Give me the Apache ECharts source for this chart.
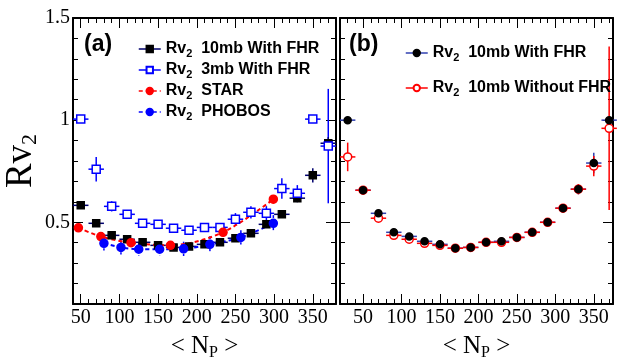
<!DOCTYPE html>
<html>
<head>
<meta charset="utf-8"/>
<title>Rv2 vs Npart</title>
<script src="https://cdn.jsdelivr.net/npm/echarts@6/dist/echarts.min.js"></script>
<style>
  html, body { margin: 0; padding: 0; background: #fff; }
  #main { width: 618px; height: 358px; }
</style>
</head>
<body>
<div id="main"></div>
<script type="text/javascript">
// ---- data ----
// panel (a)
var npLeft = [50, 70, 90, 110, 130, 150, 170, 190, 210, 230, 250, 270, 290, 310, 330, 350, 370];
var rv10Left = [0.583, 0.495, 0.436, 0.417, 0.402, 0.387, 0.377, 0.382, 0.392, 0.402, 0.422, 0.446, 0.49, 0.539, 0.618, 0.73, 0.887];
var rv10LeftErr = [0.01, 0.01, 0.01, 0.01, 0.01, 0.01, 0.01, 0.01, 0.01, 0.01, 0.01, 0.01, 0.015, 0.015, 0.02, 0.035, 0.03];
var rv3Left = [1.005, 0.76, 0.578, 0.539, 0.495, 0.49, 0.471, 0.461, 0.475, 0.475, 0.515, 0.549, 0.544, 0.665, 0.642, 1.005, 0.873];
var rv3LeftErr = [0.01, 0.06, 0.025, 0.02, 0.02, 0.015, 0.02, 0.015, 0.02, 0.02, 0.03, 0.03, 0.035, 0.05, 0.04, 0.01, 0.28];
var npStar = [47, 76, 115, 166, 234, 299];
var rvStar = [0.473, 0.43, 0.4, 0.387, 0.451, 0.613];
var rvStarErr = [0.02, 0.02, 0.02, 0.02, 0.02, 0.02];
var npPhobos = [80, 102, 125, 152, 183, 217, 257, 299];
var rvPhobos = [0.397, 0.377, 0.368, 0.368, 0.37, 0.392, 0.426, 0.495];
var rvPhobosErr = [0.035, 0.035, 0.03, 0.03, 0.035, 0.04, 0.035, 0.04];
// panel (b)
var npRight = [30, 50, 70, 90, 110, 130, 150, 170, 190, 210, 230, 250, 270, 290, 310, 330, 350, 370];
var rv10Right = [1.0, 0.657, 0.544, 0.451, 0.431, 0.407, 0.392, 0.373, 0.377, 0.402, 0.407, 0.426, 0.451, 0.5, 0.569, 0.662, 0.79, 1.0];
var rv10RightErr = [0.005, 0.02, 0.01, 0.01, 0.01, 0.01, 0.01, 0.01, 0.01, 0.01, 0.01, 0.01, 0.01, 0.01, 0.02, 0.025, 0.05, 0.01];
var rvNoRight = [0.82, 0.657, 0.52, 0.436, 0.417, 0.397, 0.387, 0.373, 0.377, 0.402, 0.402, 0.426, 0.451, 0.5, 0.569, 0.662, 0.775, 0.96];
var rvNoRightErr = [0.07, 0.02, 0.01, 0.01, 0.01, 0.01, 0.01, 0.01, 0.01, 0.01, 0.01, 0.01, 0.01, 0.01, 0.02, 0.025, 0.05, 0.4];
var binHalf = 10;
var xMajor = [50, 100, 150, 200, 250, 300, 350];
var yMajor = [0.5, 1, 1.5];

var SANS = 'Liberation Sans', SERIF = 'Liberation Serif';
var myChart = echarts.init(document.getElementById('main'));

// each grid gets minor-tick axes (with the frame line) and major-tick overlays on every side
function xAxes(grid, min, max) {
    var res = [];
    ['bottom', 'top'].forEach(function (pos) {
        var ax = {
            type: 'value', gridIndex: grid, position: pos, min: min, max: max, interval: 10,
            axisLine: {show: true, onZero: false, lineStyle: {color: '#000', width: 2}},
            axisTick: {show: true, inside: true, length: 5, lineStyle: {color: '#000', width: 1}},
            axisLabel: {show: false},
            splitLine: {show: false}
        };
        if (pos === 'bottom') {
            ax.axisLabel = {show: true, customValues: xMajor, margin: 4, color: '#000', fontFamily: SERIF, fontSize: 20};
            ax.name = '{m|< N}{s|P}{m| >}';
            ax.nameLocation = 'middle';
            ax.nameGap = 27;
            ax.nameTextStyle = {
                rich: {
                    m: {fontFamily: SERIF, fontSize: 25, color: '#000', lineHeight: 30},
                    s: {fontFamily: SERIF, fontSize: 16, color: '#000', lineHeight: 16, verticalAlign: 'bottom'}
                }
            };
        }
        res.push(ax);
        res.push({
            type: 'value', gridIndex: grid, position: pos, min: min, max: max, interval: 10,
            axisLine: {show: false, onZero: false},
            axisTick: {show: true, inside: true, length: 10, customValues: xMajor, lineStyle: {color: '#000', width: 1}},
            axisLabel: {show: false},
            splitLine: {show: false}
        });
    });
    return res;
}
function yAxes(grid, withLabels) {
    var res = [];
    ['left', 'right'].forEach(function (pos) {
        var ax = {
            type: 'value', gridIndex: grid, position: pos, min: 0.1, max: 1.5, interval: 0.1,
            axisLine: {show: true, onZero: false, lineStyle: {color: '#000', width: 2}},
            axisTick: {show: true, inside: true, length: 5, lineStyle: {color: '#000', width: 1}},
            axisLabel: {show: false},
            splitLine: {show: false}
        };
        if (withLabels && pos === 'left') {
            ax.axisLabel = {
                show: true, customValues: yMajor, margin: 3, color: '#000', fontFamily: SERIF, fontSize: 20,
                formatter: function (v) { return String(+v.toFixed(1)); }
            };
            ax.name = '{r|Rv}{s|2}';
            ax.nameLocation = 'middle';
            ax.nameGap = 27;
            ax.nameTextStyle = {
                rich: {
                    r: {fontFamily: SERIF, fontSize: 37, color: '#000', lineHeight: 40},
                    s: {fontFamily: SERIF, fontSize: 22, color: '#000', lineHeight: 22, verticalAlign: 'bottom'}
                }
            };
        }
        res.push(ax);
        res.push({
            type: 'value', gridIndex: grid, position: pos, min: 0.1, max: 1.5, interval: 0.1,
            axisLine: {show: false, onZero: false},
            axisTick: {show: true, inside: true, length: 10, customValues: yMajor, lineStyle: {color: '#000', width: 1}},
            axisLabel: {show: false},
            splitLine: {show: false}
        });
    });
    return res;
}

function toErr(xs, ys, errs, xe) {
    return xs.map(function (x, i) { return [x, ys[i], xe, errs[i]]; });
}
function toPts(xs, ys) {
    return xs.map(function (x, i) { return [x, ys[i]]; });
}
// error bars drawn through the axis scales
function errSeries(data, xi, yi, color, dash) {
    return {
        type: 'custom', xAxisIndex: xi, yAxisIndex: yi, z: 1, silent: true,
        data: data,
        renderItem: function (params, api) {
            var x = api.value(0), y = api.value(1), ex = api.value(2), ey = api.value(3);
            var kids = [];
            var st = {stroke: color, lineWidth: 1.5, lineDash: dash || null};
            if (ex > 0) {
                var l = api.coord([x - ex, y]), r = api.coord([x + ex, y]);
                kids.push({type: 'line', shape: {x1: l[0], y1: l[1], x2: r[0], y2: r[1]}, style: st});
            }
            var t = api.coord([x, y + ey]), b = api.coord([x, y - ey]);
            kids.push({type: 'line', shape: {x1: t[0], y1: t[1], x2: b[0], y2: b[1]}, style: st});
            return {type: 'group', children: kids};
        }
    };
}
function markSeries(name, data, xi, yi, symbol, size, fill, border, lineType) {
    return {
        name: name, type: 'line', xAxisIndex: xi, yAxisIndex: yi, z: 3,
        data: data, symbol: symbol, symbolSize: size, showSymbol: true,
        smooth: lineType ? 0.3 : false,
        itemStyle: {color: fill, borderColor: border, borderWidth: 1.5, opacity: 1},
        lineStyle: lineType ? {color: border, width: 2, type: lineType} : {opacity: 0, width: 0}
    };
}

var labels = {
    a10: '{t|Rv}{s|2}{t|  10mb With FHR}',
    a3: '{t|Rv}{s|2}{t|  3mb With FHR}',
    aStar: '{t|Rv}{s|2}{t|  STAR}',
    aPho: '{t|Rv}{s|2}{t|  PHOBOS}',
    b10: '{t|Rv}{s|2}{t|  10mb With FHR}',
    bNo: '{t|Rv}{s|2}{t|  10mb Without FHR}'
};
var legendText = {
    color: '#000',
    rich: {
        t: {fontFamily: SANS, fontWeight: 'bold', fontSize: 16, color: '#000', lineHeight: 20},
        s: {fontFamily: SANS, fontWeight: 'bold', fontSize: 11, color: '#000', lineHeight: 11, verticalAlign: 'bottom'}
    }
};

var option = {
    animation: false,
    backgroundColor: '#fff',
    grid: [
        {left: 73, top: 18, width: 263, height: 286, outerBoundsMode: 'none', containLabel: false},
        {left: 340, top: 18, width: 273, height: 286, outerBoundsMode: 'none', containLabel: false}
    ],
    xAxis: xAxes(0, 40, 380).concat(xAxes(1, 20, 375)),
    yAxis: yAxes(0, true).concat(yAxes(1, false)),
    legend: [
        {
            orient: 'vertical', left: 133, top: 36, itemWidth: 22, itemHeight: 8, itemGap: 3,
            selectedMode: false, textStyle: legendText,
            formatter: function (n) { return labels[n]; },
            data: [
                {name: 'a10', lineStyle: {color: '#00006e', width: 1.5, opacity: 1, type: 'solid'}},
                {name: 'a3', lineStyle: {color: '#0000ff', width: 1.5, opacity: 1, type: 'solid'}},
                {name: 'aStar', lineStyle: {color: '#ff0000', width: 1.5, opacity: 1, type: [4, 3]}},
                {name: 'aPho', lineStyle: {color: '#0000ff', width: 1.5, opacity: 1, type: [4, 3]}}
            ]
        },
        {
            orient: 'vertical', left: 400, top: 40, itemWidth: 22, itemHeight: 8, itemGap: 17,
            selectedMode: false, textStyle: legendText,
            formatter: function (n) { return labels[n]; },
            data: [
                {name: 'b10', lineStyle: {color: '#3040b0', width: 1.5, opacity: 1, type: 'solid'}},
                {name: 'bNo', lineStyle: {color: '#ff0000', width: 1.5, opacity: 1, type: 'solid'}}
            ]
        }
    ],
    graphic: [
        {type: 'text', left: 84, top: 33, style: {text: '(a)', font: 'bold 23px "Liberation Sans"', fill: '#000'}},
        {type: 'text', left: 349, top: 33, style: {text: '(b)', font: 'bold 23px "Liberation Sans"', fill: '#000'}}
    ],
    series: [
        // panel (a)
        errSeries(toErr(npLeft, rv3Left, rv3LeftErr, binHalf), 0, 0, '#0000ff'),
        errSeries(toErr(npLeft, rv10Left, rv10LeftErr, binHalf), 0, 0, '#00006e'),
        errSeries(toErr(npStar, rvStar, rvStarErr, 0), 0, 0, '#ff0000'),
        errSeries(toErr(npPhobos, rvPhobos, rvPhobosErr, 0), 0, 0, '#0000ff', [3, 3]),
        markSeries('a10', toPts(npLeft, rv10Left), 0, 0, 'rect', 7, '#000', '#000'),
        markSeries('a3', toPts(npLeft, rv3Left), 0, 0, 'rect', 8, '#fff', '#0000ff'),
        markSeries('aStar', toPts(npStar, rvStar), 0, 0, 'circle', 8, '#ff0000', '#ff0000', [4, 3]),
        markSeries('aPho', toPts(npPhobos, rvPhobos), 0, 0, 'circle', 8, '#0000ff', '#0000ff', [4, 3]),
        // panel (b)
        errSeries(toErr(npRight, rv10Right, rv10RightErr, binHalf), 4, 4, '#3040b0'),
        errSeries(toErr(npRight, rvNoRight, rvNoRightErr, binHalf), 4, 4, '#ff0000'),
        markSeries('bNo', toPts(npRight, rvNoRight), 4, 4, 'circle', 8, '#fff', '#ff0000'),
        markSeries('b10', toPts(npRight, rv10Right), 4, 4, 'circle', 7, '#000', '#000')
    ]
};
myChart.setOption(option);
</script>
</body>
</html>
